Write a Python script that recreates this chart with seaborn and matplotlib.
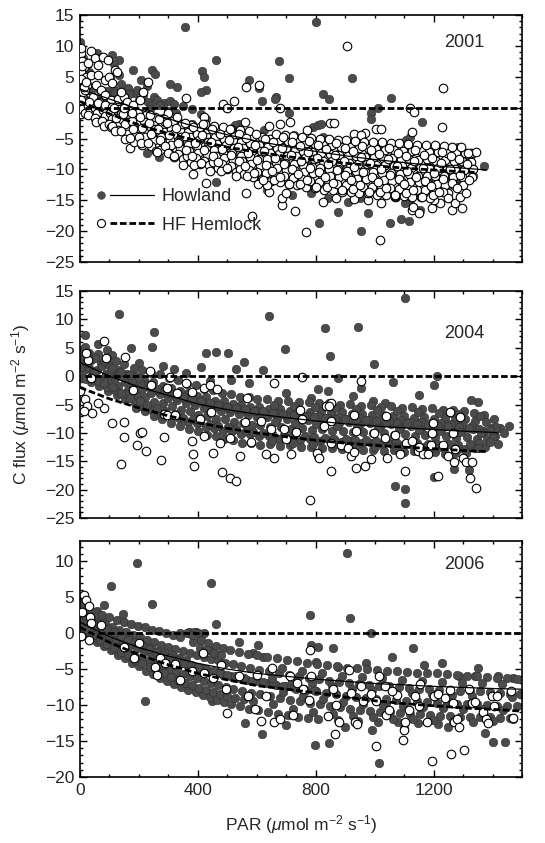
import matplotlib
matplotlib.use("Agg")
import matplotlib.pyplot as plt
import seaborn as sns
import pandas as pd
from matplotlib.lines import Line2D
from matplotlib.legend_handler import HandlerBase
from matplotlib.ticker import MultipleLocator

# ---------------- data ----------------
# 2001 Howland (filled)
how01 = [
    (358, 13.1), (801, 13.8), (0, 10.7), (462, 7.7), (676, 7.5), (710, 4.8), (923, 4.8), (415, 6.0), (420, 5.0),
    (574, 4.5), (608, 3.1), (426, 2.8), (411, 2.6), (329, 3.3), (619, 1.1), (665, 1.8), (661, 1.4), (826, 2.2),
    (844, 1.4), (1054, 1.6), (1162, -2.4), (986, -0.8), (1011, -0.1), (988, -1.9), (1108, -5.3), (1119, -4.7),
    (710, -0.8), (790, -3.1), (807, -2.8), (818, -2.6), (540, -2.7), (409, -1.0), (500, -0.1),
    (57, 8.8), (108, 8.5), (134, 7.7), (114, 7.1), (179, 6.1), (244, 6.1), (256, 5.5), (207, 4.5), (227, 3.5),
    (162, 3.1), (182, 2.3), (148, 1.5), (68, 2.8), (91, 2.7), (114, 2.9), (102, 2.0), (125, 1.9), (307, 3.9),
    (250, 1.8), (261, 1.2), (284, 0.8), (307, 1.0), (11, 8.0), (23, 6.9), (102, 5.0), (131, 5.3), (45, 3.1),
    (17, 3.9), (5, 7.2), (30, 5.8), (140, 3.8), (165, 2.2), (195, 2.8), (200, 1.3), (215, 2.0), (230, 0.9),
    (120, 2.4), (75, 1.6), (90, 1.0), (150, 0.7), (175, 0.5), (240, 0.2), (270, 0.4), (320, 0.6), (350, 0.3),
    (380, -0.2), (300, -0.6), (40, 1.0), (60, 0.3),
    (810, -18.7), (954, -19.9), (1051, -18.7), (1091, -18.1), (1117, -18.4), (877, -16.9), (977, -17.0),
    (784, -13.8), (840, -14.6), (909, -15.3), (949, -14.7), (1119, -15.0), (1153, -16.6), (1249, -12.3),
    (460, -12.0), (636, -13.4), (721, -14.2), (227, -7.4), (1045, -13.5), (1074, -14.5), (1102, -15.5),
    (269, -8.0), (1261, -6.4), (1170, -7.4), (1199, -7.7), (1306, -8.0), (1284, -6.4), (1249, -11.7),
    (1240, -10.6), (1280, -9.8), (1220, -9.0),
    (80, 0.5), (84, -1.0), (130, -0.2), (126, -1.8), (180, -0.6), (184, -2.5), (230, -1.2), (226, -3.2),
    (236, -0.2), (280, -1.6), (284, -3.6), (330, -2.1), (334, -4.0), (326, -0.9), (380, -2.6), (384, -4.6),
    (430, -3.2), (434, -5.0), (426, -1.8), (480, -3.7), (484, -5.6), (530, -4.2), (534, -6.2), (526, -2.8),
    (580, -4.7), (584, -6.8), (630, -5.0), (634, -7.4), (626, -3.6), (680, -5.5), (684, -7.9), (730, -6.0),
    (734, -8.3), (726, -4.4), (780, -6.5), (784, -8.8), (830, -6.9), (834, -9.4), (826, -4.8), (880, -7.3),
    (884, -9.8), (930, -7.6), (934, -10.2), (926, -5.6), (980, -8.0), (984, -10.6), (1030, -8.3), (1034, -11.0),
    (1026, -6.0), (1080, -8.6), (1084, -11.3), (1130, -8.9), (1134, -11.6), (1126, -6.4), (1180, -9.2),
    (1184, -12.0), (1230, -9.4), (1234, -12.2), (1226, -7.0), (1280, -9.6), (1284, -11.8), (1330, -9.8),
    (1334, -11.0), (1326, -7.6), (1370, -9.5),
]
# 2001 HF Hemlock (open)
hf01 = [
    (3, 8.8), (8, 7.5), (15, 6.5), (5, 5.8), (20, 5.0), (10, 4.3), (25, 3.7), (5, 3.0), (18, 2.2), (30, 1.5),
    (8, 0.8), (15, 0.2), (22, -0.3), (35, -0.8), (5, -0.2), (12, 0.5), (2, 0.2), (6, -0.5), (10, 1.6),
    (14, -0.1), (19, 0.6), (3, -1.0), (24, 0.1), (9, 2.5), (16, 2.9), (4, 4.6), (12, 3.4), (22, 4.1),
    (7, 6.8), (28, 1.0), (2, 9.6),
    (36, 9.1), (50, 8.0), (78, 8.2), (95, 7.7), (61, 6.9), (27, 7.2), (118, 6.1), (38, 5.3), (61, 5.3),
    (84, 4.5), (55, 3.7), (100, 5.0), (110, 4.0), (70, 2.8), (44, 1.8), (84, 2.1), (105, 1.3), (130, 1.4),
    (150, 1.7), (160, 0.9), (125, 5.7), (48, 0.4), (66, 0.9), (90, 0.2), (140, 2.5), (180, 0.4), (205, 1.2),
    (231, 4.2), (214, 2.6), (361, 1.5), (524, 1.0), (609, 3.6), (562, 3.4), (485, 0.6), (500, 0.0), (679, 0.0),
    (679, -2.7), (713, -2.3), (905, 10.0), (1233, 3.1), (1119, 0.0), (1134, -0.7), (1227, -3.1), (1125, -4.0),
    (847, -2.5), (863, -2.5), (966, -4.1), (1005, -3.4), (1022, -3.4), (929, -4.3), (954, -4.5), (886, -5.5),
    (300, -0.8), (420, -1.5), (560, -2.4), (640, -3.0), (770, -3.6),
    (585, -17.6), (767, -20.2), (1019, -21.4), (729, -16.7), (687, -15.8), (684, -14.7), (824, -15.3),
    (929, -14.8), (977, -14.9), (1020, -15.4), (1068, -14.5), (1125, -16.6), (1130, -16.1), (1150, -17.1),
    (1193, -16.2), (1221, -15.4), (1261, -16.6), (1272, -15.5), (1295, -16.2), (429, -12.2), (384, -10.8),
    (170, -6.5), (562, -13.8), (640, -13.6), (700, -13.9), (870, -14.6), (1200, -14.9), (1250, -13.9),
    (12, 0.6), (8, -0.2), (16, -0.8), (4, 1.2), (28, 0.3), (34, -0.5), (26, -1.2), (32, 0.9),
    (52, 0.0), (58, -0.9), (50, -1.6), (60, 0.8), (54, -2.3), (78, -0.4), (84, -1.3), (76, -2.2), (86, 0.4),
    (80, -3.0), (102, -0.8), (108, -1.9), (100, -2.6), (110, 0.1), (104, -3.2), (128, -1.2), (134, -2.2),
    (126, -2.9), (136, -0.3), (130, -3.7), (140, -1.0), (158, -1.5), (164, -2.4), (156, -3.1), (166, -0.6),
    (160, -4.2), (152, -5.0), (188, -1.9), (194, -2.7), (186, -3.7), (196, -0.9), (190, -4.6), (182, -5.5),
    (218, -2.2), (224, -3.2), (216, -4.0), (226, -1.1), (220, -4.8), (212, -6.0), (248, -2.6), (254, -3.4),
    (246, -4.5), (256, -1.5), (250, -5.3), (242, -6.2), (258, -7.0), (278, -3.0), (284, -4.0), (276, -4.8),
    (286, -1.9), (280, -5.8), (272, -6.8), (290, -2.4), (308, -3.4), (314, -4.2), (306, -5.3), (316, -2.1),
    (310, -6.0), (302, -7.3), (318, -8.0), (338, -3.6), (344, -4.7), (336, -5.5), (346, -2.6), (340, -6.5),
    (332, -7.5), (348, -8.4), (368, -4.0), (374, -4.8), (366, -6.0), (376, -2.8), (370, -7.0), (362, -7.8),
    (378, -8.8), (398, -4.2), (404, -5.3), (396, -6.2), (406, -3.1), (400, -7.3), (392, -8.2), (408, -9.1),
    (428, -4.6), (434, -5.5), (426, -6.7), (436, -3.4), (430, -7.5), (422, -8.6), (438, -9.3), (424, -2.6),
    (458, -4.8), (464, -5.9), (456, -6.9), (466, -3.7), (460, -7.9), (452, -8.8), (468, -9.7), (454, -3.0),
    (488, -5.1), (494, -6.1), (486, -7.2), (496, -4.0), (490, -8.1), (482, -9.2), (498, -10.0), (484, -3.2),
    (518, -5.3), (524, -6.5), (516, -7.4), (526, -4.2), (520, -8.5), (512, -9.4), (528, -10.5), (514, -3.4),
    (548, -5.6), (554, -6.6), (546, -7.8), (556, -4.4), (550, -8.7), (542, -9.9), (558, -10.8), (544, -3.6),
    (578, -5.7), (584, -7.0), (576, -8.0), (586, -4.6), (580, -9.1), (572, -10.1), (588, -11.3), (574, -3.8),
    (608, -6.1), (614, -7.1), (606, -8.3), (616, -4.8), (610, -9.3), (602, -10.5), (618, -11.5), (604, -12.4),
    (638, -6.2), (644, -7.4), (636, -8.4), (646, -5.0), (640, -9.6), (632, -10.6), (648, -11.9), (634, -12.6),
    (668, -6.5), (674, -7.5), (666, -8.8), (676, -5.2), (670, -9.8), (662, -11.0), (678, -12.0), (664, -4.2),
    (698, -6.6), (704, -7.8), (696, -8.9), (706, -5.4), (700, -10.1), (692, -11.1), (708, -12.4), (694, -4.4),
    (728, -6.9), (734, -7.9), (726, -9.2), (736, -5.6), (730, -10.2), (722, -11.4), (738, -12.5), (724, -4.6),
    (758, -7.0), (764, -8.2), (756, -9.3), (766, -5.8), (760, -10.5), (752, -11.5), (768, -12.8), (754, -4.8),
    (788, -7.2), (794, -8.3), (786, -9.6), (796, -5.9), (790, -10.6), (782, -11.9), (798, -13.0), (784, -4.9),
    (818, -7.3), (824, -8.6), (816, -9.7), (826, -6.0), (820, -10.9), (812, -12.0), (828, -13.3), (814, -5.0),
    (848, -7.5), (854, -8.6), (846, -9.9), (856, -6.1), (850, -11.0), (842, -12.3), (858, -13.4), (844, -5.1),
    (878, -7.6), (884, -8.9), (876, -10.0), (886, -6.3), (880, -11.3), (872, -12.4), (888, -13.7), (874, -5.2),
    (908, -7.8), (914, -8.9), (906, -10.2), (916, -6.4), (910, -11.3), (902, -12.6), (918, -13.7), (904, -5.3),
    (938, -7.8), (944, -9.1), (936, -10.2), (946, -6.5), (940, -11.5), (932, -12.6), (948, -13.9), (934, -5.4),
    (968, -8.0), (974, -9.1), (966, -10.4), (976, -6.6), (970, -11.5), (962, -12.8), (978, -13.9), (964, -5.5),
    (998, -8.0), (1004, -9.3), (996, -10.4), (1006, -6.7), (1000, -11.7), (992, -12.8), (1008, -14.1), (994, -5.6),
    (1028, -8.2), (1034, -9.3), (1026, -10.6), (1036, -6.8), (1030, -11.7), (1022, -13.0), (1038, -14.1), (1024, -5.6),
    (1058, -8.2), (1064, -9.5), (1056, -10.6), (1066, -6.9), (1060, -11.9), (1052, -13.0), (1068, -14.3), (1054, -5.7),
    (1088, -8.4), (1094, -9.5), (1086, -10.8), (1096, -7.0), (1090, -11.9), (1082, -13.2), (1098, -14.3), (1084, -5.8),
    (1118, -8.3), (1124, -9.7), (1116, -10.8), (1126, -7.0), (1120, -12.1), (1112, -13.2), (1128, -14.5), (1114, -5.9),
    (1148, -8.5), (1154, -9.7), (1146, -11.0), (1156, -7.1), (1150, -12.1), (1142, -13.4), (1158, -14.5), (1144, -6.0),
    (1178, -8.4), (1184, -9.8), (1176, -11.0), (1186, -7.2), (1180, -12.3), (1172, -13.4), (1188, -14.7), (1174, -6.0),
    (1208, -8.6), (1214, -9.8), (1206, -11.1), (1216, -7.2), (1210, -12.3), (1202, -13.6), (1204, -6.1),
    (1238, -8.5), (1244, -10.0), (1236, -11.1), (1246, -7.3), (1240, -12.5), (1232, -13.6), (1234, -6.2),
    (1268, -8.7), (1274, -9.9), (1266, -11.3), (1276, -7.3), (1270, -12.5), (1264, -6.3),
    (1298, -8.6), (1304, -10.1), (1296, -11.2), (1306, -7.4), (1300, -12.6), (1294, -6.3),
    (1328, -8.8), (1334, -10.0), (1326, -7.4), (1332, -11.3), (1345, -7.2),
    (115, -0.1), (121, -1.6), (110, -2.9), (118, -3.8), (145, -1.1), (151, -2.6), (140, -3.8), (148, 0.0),
    (175, -2.1), (181, -3.4), (170, -4.9), (178, -0.9), (205, -1.5), (211, -3.25), (200, -4.7), (208, -5.8),
    (235, -2.5), (241, -4.2), (230, -5.7), (238, -1.2), (265, -3.5), (271, -5.2), (260, -7.2), (268, -1.8),
    (295, -2.5), (301, -4.5), (290, -6.2), (298, -7.4), (325, -3.3), (331, -5.8), (320, -7.9), (328, -1.5),
    (355, -4.6), (361, -6.8), (350, -9.3), (358, -2.5), (385, -3.2), (391, -5.7), (380, -7.8), (388, -9.3),
    (415, -4.4), (421, -6.9), (410, -9.0), (418, -2.6), (445, -5.6), (451, -7.8), (440, -10.3), (448, -3.5),
    (475, -4.2), (481, -6.7), (470, -8.8), (478, -10.3), (505, -5.2), (511, -7.7), (500, -9.8), (508, -3.4),
    (535, -6.4), (541, -8.6), (530, -11.1), (538, -4.3), (565, -4.9), (571, -7.4), (560, -9.5), (568, -11.0),
    (595, -6.0), (601, -8.5), (590, -10.6), (598, -4.2), (625, -7.1), (631, -9.3), (620, -11.8), (628, -5.0),
    (655, -5.6), (661, -8.1), (650, -10.2), (658, -11.7), (685, -6.6), (691, -9.1), (680, -11.2), (688, -4.8),
    (715, -7.7), (721, -9.9), (710, -12.4), (718, -5.6), (745, -6.2), (751, -8.7), (740, -10.8), (748, -12.3),
    (775, -7.2), (781, -9.7), (770, -11.8), (778, -5.4), (805, -8.2), (811, -10.4), (800, -12.9), (808, -6.1),
    (835, -6.7), (841, -9.2), (830, -11.3), (838, -12.8), (865, -7.6), (871, -10.1), (860, -12.2), (868, -5.8),
    (895, -8.7), (901, -10.9), (890, -13.4), (898, -6.6), (925, -7.1), (931, -9.6), (920, -11.7), (928, -13.2),
    (955, -8.0), (961, -10.5), (950, -12.6), (958, -6.2), (985, -9.0), (991, -11.2), (980, -13.7), (988, -6.9),
    (1015, -7.5), (1021, -10.0), (1010, -12.1), (1018, -13.6), (1045, -8.4), (1051, -10.9), (1040, -13.0),
    (1048, -6.6), (1075, -9.4), (1081, -11.6), (1070, -14.1), (1078, -7.3), (1105, -7.8), (1111, -10.3),
    (1100, -12.4), (1108, -13.9), (1135, -8.7), (1141, -11.2), (1130, -13.3), (1138, -6.9), (1165, -9.7),
    (1171, -11.9), (1160, -14.4), (1168, -7.6), (1195, -8.1), (1201, -10.6), (1190, -12.7), (1198, -14.2),
    (1225, -9.0), (1231, -11.5), (1220, -13.6), (1228, -7.2), (1255, -10.0), (1261, -12.2), (1250, -14.7),
    (1258, -7.9), (1285, -8.4), (1291, -10.9), (1280, -13.0), (1288, -14.5), (1315, -9.2), (1321, -11.7),
    (1310, -13.8), (1318, -7.4),
]
# 2004 Howland (filled)
how04 = [
    (131, 10.9), (642, 10.6), (1104, 13.7), (833, 8.5), (943, 8.7), (252, 7.8), (17, 7.2), (695, 4.8),
    (850, 3.6), (997, 2.2), (557, 2.5), (502, 4.0), (429, 4.0), (411, 1.6), (460, 4.3), (173, 4.9), (244, 5.2),
    (282, 1.8), (531, 1.3), (622, 1.0), (1210, 0.0), (1202, -1.5), (1350, -4.6), (1327, -4.2),
    (1104, -22.4), (1104, -19.9), (1070, -19.3), (1270, -16.4), (1202, -17.8), (1320, -16.5), (807, -14.1),
    (1062, -1.1), (1034, -4.7), (994, -4.4), (926, -3.5), (954, -2.1), (875, -0.3), (807, -2.2), (784, -3.8),
    (841, -2.6), (574, -1.2), (511, -0.6), (1261, -6.5), (1397, -9.1), (1425, -9.1), (1408, -10.6),
    (60, 5.6), (90, 4.6), (110, 3.8), (200, 2.4), (320, 1.2), (360, 0.5), (440, -0.8), (700, -2.9), (1150, -3.4),
    (3, 4.6), (9, 3.4), (2, 2.1), (12, 1.0), (6, -0.3), (14, 3.0), (4, 1.6), (18, 5.2),
    (32, 4.1), (38, 2.9), (30, 1.4), (42, 0.2), (36, -1.1), (28, 3.7), (44, 0.8),
    (62, 3.9), (70, 2.3), (58, 1.1), (68, -0.5), (64, -1.7), (74, 1.8), (60, -0.9),
    (92, 3.1), (100, 1.9), (88, 0.3), (98, -1.1), (94, -2.6), (104, 0.9), (90, -1.9),
    (122, 2.7), (128, 1.1), (118, -0.4), (130, -1.7), (124, -3.3), (134, 0.5), (120, -2.5),
    (150, 2.1), (158, 0.4), (152, -1.1), (162, -2.4), (154, -4.1), (146, -0.2), (160, -3.2),
    (182, 1.4), (188, 0.1), (180, -1.5), (192, -3.3), (186, -4.7), (176, -0.9), (190, -5.6),
    (212, 1.1), (218, -0.7), (210, -2.3), (222, -3.7), (214, -5.5), (206, -1.3), (220, -6.2),
    (242, 0.5), (248, -1.1), (240, -2.9), (252, -4.5), (246, -5.9), (236, -2.0), (250, -7.1),
    (272, 0.3), (280, -1.8), (270, -3.2), (282, -4.8), (276, -6.6), (266, -2.5), (278, -7.5),
    (302, -0.4), (308, -2.1), (300, -3.9), (312, -5.3), (306, -7.1), (296, -3.0), (310, -8.3),
    (332, -0.7), (340, -2.7), (330, -4.2), (342, -6.0), (336, -7.4), (326, -3.6), (338, -8.7),
    (362, -1.3), (368, -2.9), (360, -4.8), (372, -6.2), (366, -8.1), (356, -3.8), (370, -9.4),
    (392, -1.6), (398, -3.5), (390, -5.0), (402, -6.8), (396, -8.3), (386, -4.4), (400, -9.7),
    (422, -2.2), (428, -3.7), (420, -5.6), (432, -7.0), (426, -8.9), (416, -4.5), (430, -10.3),
    (452, -2.4), (458, -4.3), (450, -5.7), (462, -7.5), (456, -9.1), (446, -5.1), (460, -10.5),
    (482, -3.0), (488, -4.4), (480, -6.2), (492, -7.6), (486, -9.6), (476, -5.2), (490, -11.1),
    (512, -3.1), (518, -4.9), (510, -6.3), (522, -8.1), (516, -9.7), (506, -5.7), (520, -11.2),
    (542, -3.6), (548, -5.0), (540, -6.7), (552, -8.2), (546, -10.2), (536, -5.8), (550, -11.7),
    (572, -3.6), (578, -5.4), (570, -6.8), (582, -8.6), (576, -10.2), (566, -6.2), (580, -11.7),
    (602, -4.0), (608, -5.4), (600, -7.2), (612, -8.6), (606, -10.6), (596, -6.2), (610, -12.1),
    (636, -4.0), (642, -5.8), (634, -7.2), (646, -9.0), (640, -10.6), (630, -6.6), (644, -12.0),
    (672, -4.3), (678, -5.8), (670, -7.5), (682, -9.0), (676, -11.0), (666, -6.5), (680, -12.3),
    (706, -4.3), (712, -6.1), (704, -7.5), (716, -9.3), (710, -10.9), (700, -6.9), (714, -12.2),
    (742, -4.6), (748, -6.0), (740, -7.8), (752, -9.2), (746, -11.2), (736, -6.8), (750, -12.5),
    (776, -4.5), (782, -6.3), (774, -7.7), (786, -9.5), (780, -11.1), (770, -7.1), (784, -12.4),
    (812, -4.8), (818, -6.2), (810, -8.0), (822, -9.4), (816, -11.4), (806, -7.0), (820, -12.7),
    (846, -4.7), (852, -6.5), (844, -7.9), (856, -9.7), (850, -11.3), (840, -7.3), (854, -12.6),
    (882, -5.0), (888, -6.4), (880, -8.2), (892, -9.6), (886, -11.6), (876, -7.2), (890, -12.9),
    (916, -4.9), (922, -6.7), (914, -8.1), (926, -9.9), (920, -11.5), (910, -7.5), (924, -12.8),
    (952, -5.2), (958, -6.6), (950, -8.4), (962, -9.8), (956, -11.8), (946, -7.4), (960, -13.1),
    (986, -5.1), (992, -6.9), (984, -8.3), (996, -10.1), (990, -11.7), (980, -7.7), (994, -13.0),
    (1022, -5.4), (1028, -6.8), (1020, -8.6), (1032, -10.0), (1026, -12.0), (1016, -7.6), (1030, -13.2),
    (1056, -5.3), (1062, -7.1), (1054, -8.5), (1066, -10.3), (1060, -11.9), (1050, -7.9), (1064, -13.1),
    (1092, -5.6), (1098, -7.0), (1090, -8.8), (1102, -10.2), (1096, -12.2), (1086, -7.8), (1100, -13.3),
    (1126, -5.5), (1132, -7.3), (1124, -8.7), (1136, -10.5), (1130, -12.1), (1120, -8.1), (1134, -13.2),
    (1162, -5.8), (1168, -7.2), (1160, -9.0), (1172, -10.4), (1166, -12.4), (1156, -8.0), (1170, -13.5),
    (1196, -5.7), (1202, -7.5), (1194, -8.9), (1206, -10.7), (1200, -12.3), (1190, -8.3), (1204, -13.4),
    (1232, -6.0), (1238, -7.4), (1230, -9.2), (1242, -10.6), (1236, -12.6), (1226, -8.2), (1240, -13.7),
    (1266, -5.9), (1272, -7.7), (1264, -9.1), (1276, -10.9), (1270, -12.5), (1260, -8.5), (1274, -13.6),
    (1302, -6.2), (1308, -7.6), (1300, -9.4), (1312, -10.8), (1306, -12.8), (1296, -8.4), (1310, -13.5),
    (1336, -6.5), (1342, -7.9), (1334, -9.3), (1346, -11.1), (1340, -12.7), (1330, -8.7),
    (1372, -6.8), (1378, -8.0), (1370, -9.6), (1382, -11.0), (1376, -12.4),
    (1406, -7.5), (1412, -9.0), (1402, -10.6), (1418, -12.0), (1455, -8.7), (1440, -10.0),
    (20, 2.4), (22, -0.5), (50, 3.2), (48, 0.5), (80, 2.6), (82, -1.2), (110, 1.5), (112, -2.0), (140, 0.8),
    (138, -2.9), (170, 0.2), (168, -3.8), (200, -0.4), (202, -4.4), (230, -1.6), (228, -5.0), (260, -2.2),
    (262, -5.7), (290, -2.7), (288, -6.2), (320, -3.2), (322, -6.6), (350, -3.6), (348, -7.3), (380, -4.1),
    (382, -7.6), (410, -4.4), (408, -8.1), (440, -4.8), (442, -8.4), (470, -5.0), (468, -8.7), (500, -5.4),
    (502, -9.0), (530, -5.6), (528, -9.4), (560, -5.8), (562, -9.6), (590, -6.1), (588, -9.8), (620, -6.2),
    (622, -10.0), (655, -6.5), (653, -10.2), (690, -6.7), (692, -10.4), (725, -6.9), (723, -10.5), (760, -7.0),
    (762, -10.6), (795, -7.2), (793, -10.8), (830, -7.3), (832, -10.9), (865, -7.5), (863, -11.0), (900, -7.6),
    (902, -11.1), (935, -7.7), (933, -11.2), (970, -7.8), (972, -11.3), (1005, -7.9), (1003, -11.4),
    (1040, -8.1), (1042, -11.5), (1075, -8.2), (1073, -11.6), (1110, -8.3), (1112, -11.7), (1145, -8.4),
    (1143, -11.8), (1180, -8.6), (1182, -11.9), (1215, -8.7), (1213, -12.0), (1250, -8.8), (1252, -12.0),
    (1285, -8.9), (1283, -12.1), (1320, -9.1), (1322, -12.0), (1355, -9.3), (1353, -11.8), (1390, -9.5),
    (1392, -11.6),
    (657, -5.0), (661, -8.0), (652, -11.5), (727, -5.2), (731, -8.3), (722, -11.8), (797, -5.4), (801, -8.5),
    (792, -12.0), (867, -5.6), (871, -8.7), (862, -12.2), (937, -5.8), (941, -8.9), (932, -12.3), (1007, -6.0),
    (1011, -9.1), (1002, -12.4), (1077, -6.1), (1081, -9.3), (1072, -12.5), (1147, -6.3), (1151, -9.5),
    (1142, -12.6), (1217, -6.5), (1221, -9.7), (1212, -12.7), (1287, -6.7), (1291, -9.9), (1282, -12.8),
    (1357, -7.0), (1361, -10.1), (1352, -12.6),
]
# 2004 HF Hemlock (open)
hf04 = [
    (0, -2.6), (17, -4.1), (23, -5.3), (40, -6.5), (14, -6.2), (28, 2.9), (20, 4.0), (36, -0.3), (80, 6.2),
    (88, 3.2), (80, -5.7), (108, -8.2), (139, -15.5), (148, -8.1), (148, -10.8), (153, 3.4), (193, -12.1),
    (205, -10.0), (212, -9.8), (225, -13.2), (236, 0.9), (241, -1.5), (274, -14.8), (284, -6.6), (286, -10.8),
    (295, -2.1), (295, -6.9), (307, -0.1), (321, -6.9), (359, -1.2), (380, -2.8), (380, -11.5), (388, -15.8),
    (384, -13.8), (407, -7.5), (420, -10.6), (420, -2.1), (441, -1.5), (443, -6.4), (466, -2.2), (452, -13.5),
    (475, -11.8), (483, -16.9), (508, -17.9), (531, -18.4), (509, -10.9), (543, -14.1), (568, -3.8),
    (579, -11.6), (630, -13.7), (657, -14.4), (659, -1.2), (648, -9.4), (613, -7.9), (691, -9.4), (716, -13.7),
    (733, -9.9), (748, -5.9), (755, -7.6), (782, -21.8), (804, -13.6), (812, -14.4), (829, -8.8), (835, -5.2),
    (852, -4.7), (852, -7.9), (852, -11.8), (852, -16.8), (886, -12.1), (909, -12.6), (920, -14.1),
    (929, -13.4), (937, -16.2), (931, -6.8), (937, -9.7), (966, -15.9), (988, -14.6), (997, -10.1),
    (1034, -10.9), (1043, -14.4), (1068, -10.3), (1085, -13.8), (1102, -16.8), (1107, -11.8), (1125, -11.5),
    (1147, -13.2), (1164, -13.8), (1181, -13.8), (1190, -12.1), (1193, -10.0), (1215, -17.6), (1233, -12.1),
    (1248, -14.1), (1255, -6.4), (1267, -10.0), (1270, -15.2), (1274, -12.9), (1288, -7.2), (1300, -14.5),
    (1309, -15.2), (1323, -17.9), (1329, -15.2), (1343, -19.7), (954, -0.9), (755, -0.1), (844, -5.3),
    (1199, -8.2), (1040, -7.0), (700, -11.0), (560, -8.0), (330, -3.0), (180, -2.5), (60, -4.8), (1150, -12.5),
]
# 2006 Howland (filled)
how06 = [
    (905, 11.2), (194, 9.7), (104, 6.5), (444, 7.0), (244, 4.0), (83, 3.9), (779, 2.5), (916, 2.1), (460, 1.2),
    (145, 2.6), (59, 3.1), (987, 0.0), (219, -9.5), (619, -14.0), (799, -15.5), (844, -15.3), (1015, -18.0),
    (990, -13.5), (1401, -15.1), (801, -4.0), (860, -2.1), (1130, -2.1), (447, -9.5), (540, -1.3), (604, -1.6),
    (587, -2.7), (621, -3.3), (784, -1.6), (806, -1.9), (1229, -4.2), (1352, -4.9), (874, -4.7), (970, -4.1),
    (1060, -3.3), (1167, -4.4), (1285, -6.0), (1341, -6.0), (1420, -6.0), (1470, -6.3), (407, -1.0),
    (441, -2.3), (464, -3.0), (1442, -15.1), (1375, -13.9), (1037, -9.7), (560, -12.5), (700, -12.8),
    (900, -13.0), (1100, -13.2), (1250, -13.0), (340, 0.0), (370, 0.2), (395, 0.1), (420, 0.0),
    (3, 4.4), (8, 3.2), (2, 2.0), (12, 1.0), (6, -0.2), (14, 2.7), (5, 3.8), (10, 0.3),
    (28, 3.6), (34, 2.4), (26, 1.3), (38, 0.2), (32, -0.7), (24, 1.8),
    (52, 3.0), (58, 1.9), (50, 0.8), (62, -0.4), (56, -1.3), (48, 2.4),
    (76, 2.5), (84, 1.4), (74, 0.2), (86, -0.8), (80, -1.8), (72, 1.0),
    (100, 2.2), (108, 0.9), (98, -0.3), (110, -1.4), (104, -2.3), (96, 0.4),
    (124, 1.8), (132, 0.5), (122, -0.8), (134, -1.9), (128, -3.0), (120, 0.0),
    (148, 1.5), (156, 0.1), (146, -1.3), (158, -2.5), (152, -3.5), (144, -0.5),
    (172, 1.3), (180, -0.2), (170, -1.7), (182, -3.0), (176, -4.2), (168, -0.9),
    (196, 1.0), (204, -0.6), (194, -2.1), (206, -3.4), (200, -4.6), (192, -1.4),
    (220, 0.8), (228, -0.9), (218, -2.5), (230, -3.9), (224, -5.2), (216, -1.8),
    (244, 0.5), (252, -1.3), (242, -2.9), (254, -4.3), (248, -5.7), (240, -2.1),
    (268, 0.3), (276, -1.6), (266, -3.2), (278, -4.7), (272, -6.2), (264, -2.5),
    (292, 0.0), (300, -1.9), (290, -3.5), (302, -5.0), (296, -6.6), (288, -2.8),
    (316, -0.3), (324, -2.2), (314, -3.8), (326, -5.4), (320, -7.1), (312, -3.1),
    (340, -0.5), (348, -2.5), (338, -4.1), (350, -5.7), (344, -7.5), (336, -3.4),
    (364, 0.0), (372, -2.8), (362, -4.4), (374, -6.0), (368, -7.9), (360, -3.7),
    (388, 0.1), (396, -3.1), (386, -4.7), (398, -6.3), (392, -8.2), (384, -1.2), (402, 0.0), (380, -0.3),
    (412, -1.0), (420, -3.3), (410, -4.9), (422, -6.6), (416, -8.6), (408, -2.0),
    (436, -1.4), (444, -3.6), (434, -5.2), (446, -6.9), (440, -8.9), (432, -2.4),
    (460, -1.8), (468, -3.8), (458, -5.4), (470, -7.2), (464, -9.3), (456, -2.8),
    (484, -2.1), (492, -4.1), (482, -5.7), (494, -7.5), (488, -9.6), (480, -3.0),
    (510, -2.4), (518, -4.3), (508, -6.0), (520, -7.8), (514, -9.9),
    (540, -2.6), (548, -4.6), (538, -6.2), (550, -8.0), (544, -10.2),
    (570, -2.9), (578, -4.8), (568, -6.5), (580, -8.3), (574, -10.5),
    (600, -3.1), (608, -5.1), (598, -6.7), (610, -8.5), (604, -10.7),
    (634, -3.3), (642, -5.3), (632, -7.0), (644, -8.8), (638, -11.0),
    (668, -3.5), (676, -5.6), (666, -7.2), (678, -9.0), (672, -11.2),
    (702, -3.7), (710, -5.8), (700, -7.4), (712, -9.3), (706, -11.4),
    (736, -3.9), (744, -6.0), (734, -7.7), (746, -9.5), (740, -11.6),
    (770, -4.1), (778, -6.2), (768, -7.9), (780, -9.7), (774, -11.8),
    (804, -4.3), (812, -6.4), (802, -8.1), (814, -9.9), (808, -12.0),
    (838, -4.5), (846, -6.6), (836, -8.3), (848, -10.1),
    (872, -4.6), (880, -6.8), (870, -8.5), (882, -10.3), (876, -12.1),
    (906, -4.8), (914, -6.9), (904, -8.7), (916, -10.5),
    (940, -4.9), (948, -7.1), (938, -8.9), (950, -10.7), (944, -12.2),
    (974, -5.0), (982, -7.2), (972, -9.0), (984, -10.8),
    (1008, -5.1), (1016, -7.3), (1006, -9.1), (1018, -10.9), (1012, -12.3),
    (1042, -5.2), (1050, -7.4), (1040, -9.2), (1052, -11.0),
    (1076, -5.3), (1084, -7.5), (1074, -9.3), (1086, -11.1), (1080, -12.4),
    (1110, -5.4), (1118, -7.6), (1108, -9.4), (1120, -11.2),
    (1144, -5.5), (1152, -7.7), (1142, -9.5), (1154, -11.3), (1148, -12.5),
    (1178, -5.6), (1186, -7.8), (1176, -9.6), (1188, -11.4),
    (1212, -5.6), (1220, -7.9), (1210, -9.7), (1222, -11.5), (1216, -12.6),
    (1246, -5.7), (1254, -7.9), (1244, -9.7), (1256, -11.5),
    (1280, -5.8), (1288, -8.0), (1278, -9.8), (1290, -11.6),
    (1314, -5.9), (1322, -8.1), (1312, -9.9), (1324, -11.6),
    (1348, -6.0), (1356, -8.1), (1346, -9.9), (1358, -11.7),
    (1382, -6.1), (1390, -8.2), (1380, -10.0), (1392, -11.7),
    (1416, -6.2), (1424, -8.3), (1414, -10.1), (1426, -11.8),
    (1450, -6.3), (1458, -8.4), (1448, -10.1), (1460, -11.8),
    (1484, -6.4), (1492, -8.4), (1482, -10.2),
    (18, 2.5), (20, 0.6), (42, 1.6), (44, -0.3), (66, 1.2), (68, -1.0), (90, 0.6), (92, -1.5), (114, 0.1),
    (116, -2.1), (138, -0.4), (140, -2.6), (162, -0.9), (164, -3.0), (186, -1.3), (188, -3.7), (210, -1.7),
    (212, -4.2), (234, -2.2), (236, -4.7), (258, -2.6), (260, -5.2), (282, -3.0), (284, -5.6), (306, -3.4),
    (308, -6.1), (330, -3.8), (332, -6.5), (354, -4.1), (356, -6.9), (378, -4.4), (380, -7.2), (402, -4.7),
    (404, -7.6), (426, -5.0), (428, -7.9), (450, -5.3), (452, -8.2), (474, -5.6), (476, -8.5), (498, -5.8),
    (500, -8.8), (525, -6.0), (527, -9.0), (555, -6.3), (557, -9.2), (585, -6.6), (587, -9.5), (620, -6.8),
    (655, -7.0), (690, -7.3), (725, -7.5), (760, -7.7), (795, -7.9),
    (651, -6.2), (655, -9.9), (685, -4.8), (689, -8.2), (719, -6.6), (723, -10.6), (753, -5.2), (757, -8.8),
    (787, -7.0), (791, -11.0), (821, -5.6), (825, -9.2), (855, -7.4), (859, -11.3), (889, -5.9), (893, -9.6),
    (923, -7.7), (927, -11.5), (957, -6.1), (961, -9.8), (991, -7.9), (995, -11.7), (1025, -6.3), (1029, -10.0),
    (1059, -8.1), (1063, -11.9), (1093, -6.5), (1097, -10.2), (1127, -8.3), (1131, -12.0), (1161, -6.6),
    (1165, -10.3), (1195, -8.4), (1199, -12.1), (1229, -6.8), (1233, -10.4), (1263, -8.6), (1267, -12.2),
    (1297, -6.9), (1301, -10.5), (1331, -8.7), (1335, -12.3), (1365, -7.0), (1369, -10.6), (1399, -8.8),
    (1403, -12.2), (1433, -7.1), (1437, -10.7), (1467, -8.9), (1471, -12.0),
]
# 2006 HF Hemlock (open)
hf06 = [
    (14, 5.3), (19, 4.6), (30, 3.8), (8, 3.0), (34, 2.2), (36, 1.4), (4, -0.4), (30, -1.0), (70, 1.1),
    (149, -1.9), (182, -3.5), (199, -1.4), (255, -4.7), (262, -5.8), (270, -3.5), (290, -4.2), (323, -4.3),
    (340, -6.5), (416, -2.8), (452, -6.3), (480, -4.4), (497, -7.8), (500, -11.1), (570, -8.7), (593, -10.6),
    (599, -5.8), (615, -12.2), (632, -8.7), (652, -4.9), (660, -12.3), (680, -12.0), (711, -6.0), (722, -11.4),
    (737, -7.0), (756, -7.7), (776, -9.3), (779, -2.3), (784, -6.0), (840, -11.5), (866, -14.0), (868, -10.0),
    (878, -12.4), (919, -8.3), (914, -5.1), (934, -12.3), (941, -12.7), (953, -7.4), (987, -8.4), (1004, -9.5),
    (1006, -15.7), (1035, -7.3), (1037, -11.4), (1049, -10.7), (1077, -8.6), (1096, -14.9), (1099, -13.4),
    (1102, -12.3), (1118, -10.7), (1138, -8.8), (1152, -10.2), (1178, -12.4), (1193, -17.8), (1200, -8.7),
    (1215, -8.4), (1260, -16.8), (1265, -9.7), (1268, -12.4), (1279, -12.0), (1285, -13.1), (1302, -16.2),
    (1319, -7.7), (1330, -9.7), (1369, -11.0), (1377, -12.0), (1386, -12.5), (1397, -8.8), (1414, -8.8),
    (1406, -10.1), (1463, -8.1), (1469, -11.8), (1257, -7.9), (1155, -7.1), (1016, -6.0), (380, -5.2),
    (420, -5.5), (540, -6.0), (860, -7.8), (960, -9.4), (1060, -8.0), (1240, -9.0), (1340, -9.6),
]

# fitted curves (read at every 100 units of PAR)
how01_fx = [0, 100, 200, 300, 400, 500, 600, 700, 800, 900, 1000, 1100, 1200, 1300, 1380]
how01_fy = [3.0, 1.4, -0.3, -1.8, -3.2, -4.4, -5.4, -6.3, -7.1, -7.8, -8.4, -8.9, -9.4, -9.8, -10.1]
hf01_fx = [0, 100, 200, 300, 400, 500, 600, 700, 800, 900, 1000, 1100, 1200, 1300, 1345]
hf01_fy = [1.0, -1.0, -2.8, -4.2, -5.4, -6.4, -7.2, -7.9, -8.5, -9.0, -9.4, -9.8, -10.1, -10.4, -10.5]
how04_fx = [0, 100, 200, 300, 400, 500, 600, 700, 800, 900, 1000, 1100, 1200, 1300, 1400, 1420]
how04_fy = [2.4, 0.0, -1.9, -3.4, -4.9, -5.9, -6.7, -7.3, -7.9, -8.4, -8.8, -9.1, -9.4, -9.7, -9.9, -10.0]
hf04_fx = [0, 100, 200, 300, 400, 500, 600, 700, 800, 900, 1000, 1100, 1200, 1300, 1380]
hf04_fy = [-2.0, -4.0, -5.6, -7.0, -8.2, -9.2, -10.0, -10.7, -11.3, -11.8, -12.2, -12.5, -12.8, -13.1, -13.3]
how06_fx = [0, 100, 200, 300, 400, 500, 600, 700, 800, 900, 1000, 1100, 1200, 1300, 1400, 1500]
how06_fy = [1.5, -0.5, -2.0, -3.2, -4.2, -5.0, -5.6, -6.0, -6.4, -6.7, -7.0, -7.2, -7.4, -7.55, -7.7, -7.8]
hf06_fx = [0, 100, 200, 300, 400, 500, 600, 700, 800, 900, 1000, 1100, 1200, 1300, 1400, 1500]
hf06_fy = [0.8, -1.3, -3.0, -4.4, -5.6, -6.5, -7.3, -7.8, -8.3, -8.9, -9.4, -9.8, -10.1, -10.4, -10.6, -10.85]

years = ["2001", "2004", "2006"]
series_names = ["Howland", "HF Hemlock"]
x_ticks = [0, 400, 800, 1200]

# ---------------- style ----------------
sns.set_theme(style="ticks")
plt.rcParams["font.family"] = ["Liberation Sans", "DejaVu Sans"]
plt.rcParams["mathtext.fontset"] = "custom"
plt.rcParams["mathtext.rm"] = "Liberation Sans"
plt.rcParams["mathtext.it"] = "Liberation Sans:italic"
plt.rcParams["mathtext.default"] = "regular"
plt.rcParams["axes.unicode_minus"] = True

FS = 12.5
MS = 38
fig = plt.figure(figsize=(5.45, 8.43), dpi=100)
fig.patch.set_facecolor("white")
L, W = 0.1468, 0.8110
ax1 = fig.add_axes([L, 0.6892, W, 0.2930])
ax2 = fig.add_axes([L, 0.3855, W, 0.2693])
ax3 = fig.add_axes([L, 0.0783, W, 0.2799])

panels = [
    (ax1, how01, hf01, how01_fx, how01_fy, hf01_fx, hf01_fy, (-25, 15), 0.888, 0.012),
    (ax2, how04, hf04, how04_fx, how04_fy, hf04_fx, hf04_fy, (-25, 15), 0.815, 0.012),
    (ax3, how06, hf06, how06_fx, how06_fy, hf06_fx, hf06_fy, (-20, 12.8), 0.900, 0.040),
]

FILL = "#4b4b4b"
HF_DASH = (0, (2.4, 1.0))

for i, (ax, hw, hf, hfx, hfy, ffx, ffy, ylim, ty, x0) in enumerate(panels):
    dh = pd.DataFrame(hw, columns=["PAR", "flux"])
    dw = pd.DataFrame(hf, columns=["PAR", "flux"])
    sns.scatterplot(data=dh, x="PAR", y="flux", ax=ax, s=MS, color=FILL, edgecolor="#2e2e2e",
                    linewidth=0.4, legend=False, zorder=2)
    sns.scatterplot(data=dw, x="PAR", y="flux", ax=ax, s=MS, color="white", edgecolor="black",
                    linewidth=0.8, legend=False, zorder=3)
    ax.axhline(0, xmin=x0, xmax=1, color="black", lw=2.0, linestyle=HF_DASH, zorder=4)
    sns.lineplot(x=hfx, y=hfy, ax=ax, color="black", lw=0.9, estimator=None, sort=False, zorder=5)
    sns.lineplot(x=ffx, y=ffy, ax=ax, color="black", lw=2.0, linestyle=HF_DASH, estimator=None,
                 sort=False, zorder=5)
    ax.set_xlim(0, 1500)
    ax.set_ylim(*ylim)
    ax.xaxis.set_major_locator(MultipleLocator(400))
    ax.xaxis.set_minor_locator(MultipleLocator(100))
    ax.yaxis.set_major_locator(MultipleLocator(5))
    ax.yaxis.set_minor_locator(MultipleLocator(1))
    ax.tick_params(which="both", direction="in", top=True, right=True, width=1.0, color="black",
                   labelsize=FS, pad=4)
    ax.tick_params(which="major", length=5)
    ax.tick_params(which="minor", length=2.5)
    for sp in ax.spines.values():
        sp.set_linewidth(1.2)
        sp.set_color("black")
    ax.set_xlabel("")
    ax.set_ylabel("")
    if i < 2:
        ax.tick_params(labelbottom=False)
    ax.text(0.916, ty, years[i], transform=ax.transAxes, ha="right", va="center", fontsize=FS + 0.5)

ax3.set_xticks(x_ticks)
ax3.set_xlabel(r"PAR ($\mathit{\mu}$mol m$^{-2}$ s$^{-1}$)", fontsize=FS, labelpad=11)
ax2.set_ylabel(r"C flux ($\mathit{\mu}$mol m$^{-2}$ s$^{-1}$)", fontsize=FS, labelpad=9)


# legend: marker then line then label
class MarkLine:
    def __init__(self, mk, ln):
        self.mk = mk
        self.ln = ln


class HandlerMarkLine(HandlerBase):
    def create_artists(self, legend, orig, xd, yd, w, h, fs, trans):
        y = h / 2 - yd
        m = Line2D([-xd + 0.08 * w], [y], linestyle="none", **orig.mk)
        l = Line2D([-xd + 0.24 * w, -xd + w], [y, y], **orig.ln)
        m.set_transform(trans)
        l.set_transform(trans)
        return [m, l]


h_how = MarkLine(dict(marker="o", markersize=5.5, markerfacecolor=FILL, markeredgecolor="#2e2e2e",
                      markeredgewidth=0.4), dict(color="black", lw=0.9))
h_hf = MarkLine(dict(marker="o", markersize=5.8, markerfacecolor="white", markeredgecolor="black",
                     markeredgewidth=0.8), dict(color="black", lw=2.0, linestyle=HF_DASH))
ax1.legend([h_how, h_hf], series_names, handler_map={MarkLine: HandlerMarkLine()},
           loc="upper left", bbox_to_anchor=(0.036, 0.30), frameon=False, fontsize=FS + 0.5,
           handlelength=3.2, handletextpad=0.45, labelspacing=0.65, borderpad=0, borderaxespad=0)

fig.savefig("out.png", dpi=100, facecolor="white")
